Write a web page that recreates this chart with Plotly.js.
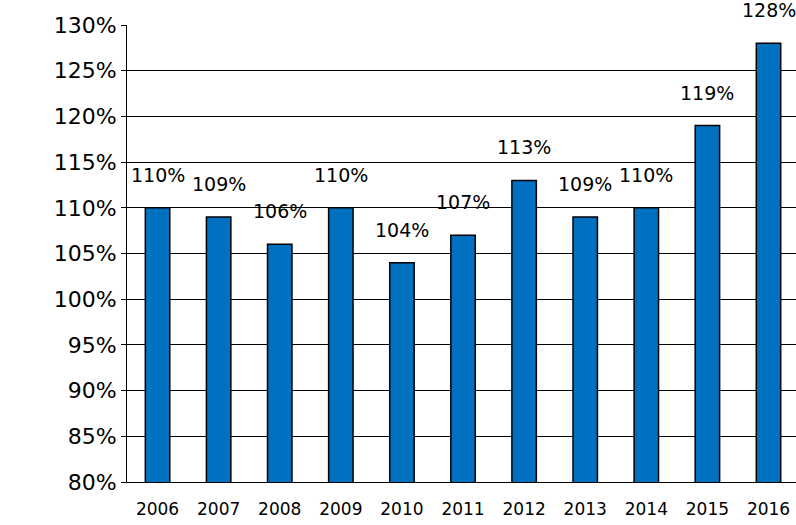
<html><head><script src="https://cdn.plot.ly/plotly-3.0.1.min.js"></script></head>
<body style="margin:0"><div id="c" style="width:796px;height:525px"></div>
<script>
const years = ['2006','2007','2008','2009','2010','2011','2012','2013','2014','2015','2016'];
const values = [110,109,106,110,104,107,113,109,110,119,128];
const labels = values.map(v => v + '%');
Plotly.newPlot('c', [{
  type:'bar', x:years, y:values, width:0.4,
  marker:{color:'#0070C0', line:{color:'#000', width:1.5}},
  hoverinfo:'skip'
}], {
  width:796, height:525, showlegend:false,
  margin:{l:127, r:0, t:25, b:43},
  paper_bgcolor:'#fff', plot_bgcolor:'#fff',
  font:{family:'DejaVu Sans, Verdana', color:'#000'},
  xaxis:{type:'category', range:[-0.5,10.45], autorange:false, tickfont:{size:17}, ticklabelstandoff:12, showline:true, linecolor:'#000', ticks:'', showgrid:false},
  yaxis:{range:[80,130], autorange:false, dtick:5, ticksuffix:'%', tickfont:{size:22}, showgrid:true, gridcolor:'#000', gridwidth:1,
    showline:true, linecolor:'#000', ticks:'outside', ticklen:5, tickcolor:'#000', zeroline:false},
  annotations: years.map((y,i)=>({x:i, y:values[i], text:labels[i], showarrow:false, yshift:20, yanchor:'bottom', font:{size:19, color:'#000'}}))
}, {staticPlot:true});
</script></body></html>
